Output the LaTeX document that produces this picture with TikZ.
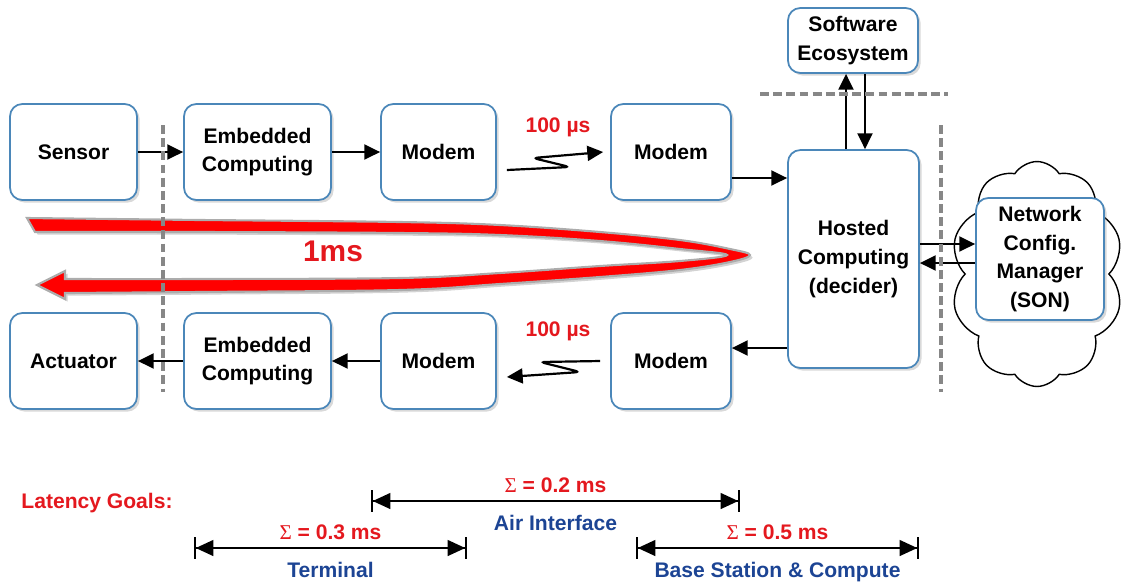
\documentclass[tikz,border=0pt]{standalone}
\usepackage{fontspec}
\setmainfont{Liberation Sans}
\newfontfamily\sigfont{Liberation Serif}
\usetikzlibrary{arrows.meta,shapes.symbols,shadows,calc}
\definecolor{boxblue}{RGB}{75,135,185}
\definecolor{latred}{RGB}{228,24,30}
\definecolor{latblue}{RGB}{28,68,148}
\definecolor{sepgray}{RGB}{135,135,135}

\begin{document}
\begin{tikzpicture}[x=0.02cm,y=-0.02cm]
	\tikzstyle{box}=[draw=boxblue,line width=1pt,rounded corners=7pt,fill=white,align=center,font=\fontsize{12}{16.4}\selectfont\bfseries,drop shadow={shadow xshift=1.5pt,shadow yshift=-1.5pt,opacity=0.3}]
	\tikzstyle{link}=[line width=1.25pt,-{Triangle[length=9pt,width=8.5pt]}]
	\tikzstyle{divider}=[sepgray,line width=1.8pt,dash pattern=on 5pt off 2.5pt]
	\tikzstyle{dimline}=[line width=1pt,{Bar[width=12pt]Triangle[length=10pt,width=9pt]}-{Triangle[length=10pt,width=9pt]Bar[width=12pt]}]
	\tikzstyle{redlbl}=[text=latred,font=\fontsize{12}{14}\selectfont\bfseries]
	\tikzstyle{bluelbl}=[text=latblue,font=\fontsize{12}{14}\selectfont\bfseries]
	\useasboundingbox (0,0) rectangle (1126,583);
	% round trip
	\path[fill=red,draw=gray!65,line width=1.2pt,drop shadow={shadow xshift=1.5pt,shadow yshift=-1.5pt,opacity=0.35}] (27,218) -- plot[smooth,tension=0.6] coordinates {(200,220) (400,222) (500,225) (600,232) (680,240) (730,249) (750,255) (730,262) (680,270) (600,277) (500,284) (400,290) (200,292) (65,293)} -- (65,299) -- (37,285) -- (65,271) -- plot[smooth,tension=0.6] coordinates {(65,279) (200,279) (400,278) (500,273) (600,266) (680,261) (727,255) (680,249) (600,241) (500,235) (400,233) (200,232) (35,232)} -- cycle;
	\node[text=latred,font=\fontsize{17}{20}\selectfont\bfseries] (onems) at (333,251) {1ms};
	% uplink row
	\node[box,minimum width=2.54cm,minimum height=1.92cm] (sensor) at (73.5,152) {Sensor};
	\node[box,minimum width=2.94cm,minimum height=1.92cm] (emb1) at (257.5,152) {Embedded\\Computing};
	\node[box,minimum width=2.3cm,minimum height=1.92cm] (ml) at (438.5,152) {Modem};
	\node[box,minimum width=2.4cm,minimum height=1.92cm] (mr) at (671,152) {Modem};
	% downlink row
	\node[box,minimum width=2.54cm,minimum height=1.92cm] (act) at (73.5,361) {Actuator};
	\node[box,minimum width=2.94cm,minimum height=1.92cm] (emb2) at (257.5,361) {Embedded\\Computing};
	\node[box,minimum width=2.3cm,minimum height=1.92cm] (ml2) at (438.5,361) {Modem};
	\node[box,minimum width=2.4cm,minimum height=1.92cm] (mr2) at (671,361) {Modem};
	% compute side
	\node[box,minimum width=2.62cm,minimum height=4.36cm] (host) at (853.5,259) {Hosted\\Computing\\(decider)};
	\node[box,minimum width=2.6cm,minimum height=1.3cm] (soft) at (853,40.5) {Software\\Ecosystem};
	\node[cloud,cloud puffs=10,cloud puff arc=115,aspect=0.78,draw,line width=0.8pt,fill=white,minimum width=3.45cm,minimum height=4.5cm] (cl) at (1037,274) {};
	\node[box,minimum width=2.56cm,minimum height=2.44cm] (son) at (1040,259) {Network\\Config.\\Manager\\(SON)};
	\node[redlbl] (lat1) at (558,127) {100 µs};
	\node[redlbl] (lat2) at (558,331) {100 µs};
	\coordinate (y1) at (0,178);
	\coordinate (y2) at (0,348);
	\coordinate (y3) at (0,244);
	\coordinate (y4) at (0,263);
	\coordinate (x1) at (846,0);
	\coordinate (x2) at (865,0);
	\draw[link] (sensor) -- (emb1);
	\draw[link] (emb1) -- (ml);
	\draw[link,rounded corners=3pt] ($(ml.east)+(10,18)$) -- ++(63,-3) -- ++(-37,-9) -- ($(mr.west)+(-7,0)$);
	\draw[link] (mr.east |- y1) -- (host.west |- y1);
	\draw[link] (host.west |- y2) -- (mr2.east |- y2);
	\draw[link,rounded corners=3pt] ($(mr2.west)+(-10,0)$) -- ++(-60,1) -- ++(40,10) -- ($(ml2.east)+(10,16)$);
	\draw[link] (ml2) -- (emb2);
	\draw[link] (emb2) -- (act);
	\draw[link] (host.north -| x1) -- (soft.south -| x1);
	\draw[link] (soft.south -| x2) -- (host.north -| x2);
	\draw[link] (host.east |- y3) -- (son.west |- y3);
	\draw[link] (son.west |- y4) -- (host.east |- y4);
	% borders
	\draw[divider] (163,125) -- (163,392);
	\draw[divider] (760,94) -- (948,94);
	\draw[divider] (941,125) -- (941,392);
	% latency goals
	\node[redlbl] (goals) at (97,503) {Latency Goals:};
	\coordinate (a1) at (371,501);
	\coordinate (a2) at (740,501);
	\coordinate (t1) at (194,548);
	\coordinate (t2) at (467,548);
	\coordinate (b1) at (636,548);
	\coordinate (b2) at (919,548);
	\draw[dimline] (a1) -- (a2) node[midway,above=1pt,redlbl] {{\sigfont\mdseries Σ} = 0.2 ms} node[midway,below=4pt,bluelbl] {Air Interface};
	\draw[dimline] (t1) -- (t2) node[midway,above=1pt,redlbl] {{\sigfont\mdseries Σ} = 0.3 ms} node[midway,below=4pt,bluelbl] {Terminal};
	\draw[dimline] (b1) -- (b2) node[midway,above=1pt,redlbl] {{\sigfont\mdseries Σ} = 0.5 ms} node[midway,below=4pt,bluelbl] {Base Station \& Compute};
\end{tikzpicture}
\end{document}
